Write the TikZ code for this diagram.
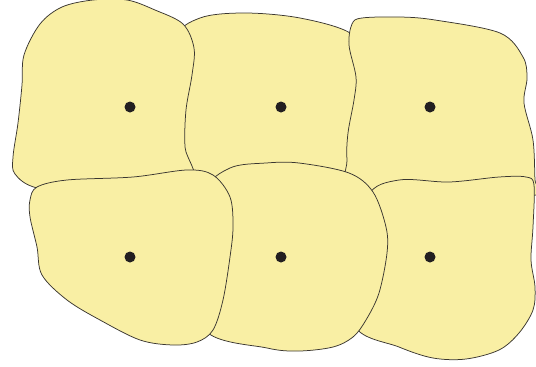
\documentclass[tikz,border=0pt]{standalone}
\usetikzlibrary{calc}
\definecolor{cellfill}{HTML}{F9EFA4}
\definecolor{cellline}{HTML}{3A3630}
\definecolor{nucleus}{HTML}{231F20}

\begin{document}
\begin{tikzpicture}[x=1pt,y=-1pt,cell/.style={fill=cellfill,draw=cellline,line width=0.75pt},nuc/.style={fill=nucleus}]
  \useasboundingbox (0,0) rectangle (536,367);
  % top row (middle lies under its neighbours)
  \draw[cell] plot[smooth cycle,tension=0.55] coordinates {(175,40) (200,18) (245,13) (300,18) (350,33) (365,60) (365,120) (360,190) (280,195) (175,185) (170,110)};
  \draw[cell] plot[smooth cycle,tension=0.55] coordinates {(93,0) (127,0) (155,10) (183,24) (194,48) (192,75) (186,110) (185,147) (190,185) (100,196) (37,188) (15,174) (13,157) (18,123) (22,85) (24,55) (40,24) (62,7)};
  \draw[cell] plot[smooth cycle,tension=0.55] coordinates {(362,18) (400,17) (435,20) (500,33) (523,57) (527,78) (524,103) (533,140) (535,180) (536,195) (450,198) (352,195) (347,160) (348,133) (354,100) (356,77) (349,45) (352,24)};
  % bottom row
  \draw[cell] plot[smooth cycle,tension=0.55] coordinates {(399,180) (449,182) (499,177) (526,177) (534,185) (533,227) (531,260) (535,287) (533,310) (519,333) (499,350) (466,359) (433,358) (399,347) (355,326) (358,260) (368,196)};
  \draw[cell] plot[smooth cycle,tension=0.55] coordinates {(230,168) (266,163) (299,163) (349,173) (373,192) (386,227) (387,253) (379,293) (366,320) (353,337) (333,347) (299,351) (267,348) (205,330) (200,260) (205,192)};
  \draw[cell] plot[smooth cycle,tension=0.55] coordinates {(37,187) (67,180) (133,177) (187,170) (213,175) (230,197) (233,227) (230,257) (223,300) (213,330) (197,342) (173,345) (140,340) (100,320) (67,300) (42,275) (37,247) (30,217) (30,200)};
  % nuclei
  \foreach \y/\r in {107/T,257/B}{
    \foreach \x/\c in {130/L,281/M,430/R}{
      \coordinate (N\r\c) at (\x,\y);
      \fill[nuc] (N\r\c) circle (5.5pt);
    }
  }
\end{tikzpicture}
\end{document}
